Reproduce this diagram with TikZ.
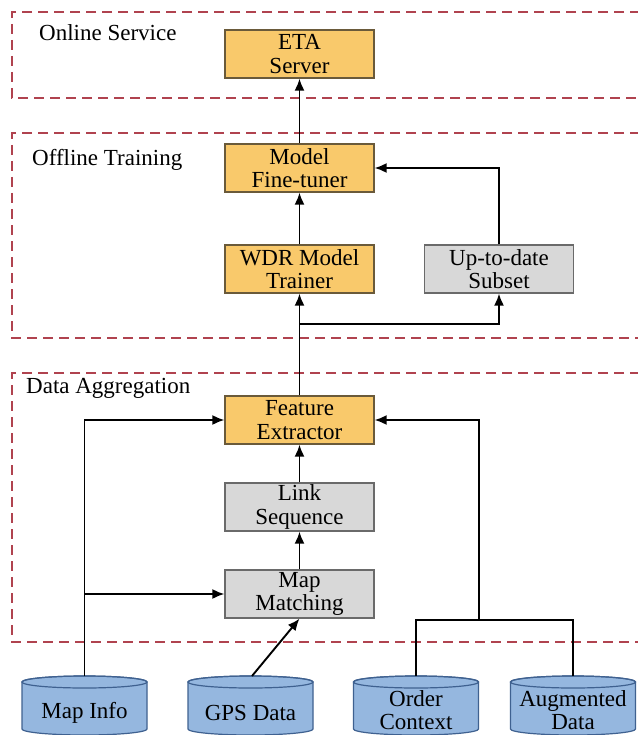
\documentclass[tikz,border=0pt]{standalone}
\usepackage{fontspec}
\setmainfont{Liberation Serif}
\usetikzlibrary{arrows.meta}
\definecolor{dashred}{HTML}{B0434F}
\definecolor{orfill}{HTML}{F9C96B}
\definecolor{ordraw}{HTML}{6A5A3A}
\definecolor{grfill}{HTML}{D8D8D8}
\definecolor{grdraw}{HTML}{6A6A6A}
\definecolor{cylfill}{HTML}{95B7DF}
\definecolor{cyldraw}{HTML}{3F6190}
\tikzset{
  box/.style={rectangle, minimum width=149pt, minimum height=48pt, inner sep=0pt, line width=1.2pt, align=center, font=\fontsize{23}{23.5}\selectfont},
  obox/.style={box, fill=orfill, draw=ordraw},
  gbox/.style={box, fill=grfill, draw=grdraw},
  region/.style={draw=dashred, line width=1.6pt, dash pattern=on 10pt off 6pt},
  rlabel/.style={anchor=west, inner sep=0pt, font=\fontsize{23}{23.5}\selectfont},
  cyl/.style={fill=cylfill, draw=cyldraw, line width=1.2pt},
  cyltext/.style={align=center, inner sep=0pt, font=\fontsize{23}{23.5}\selectfont},
  conn/.style={line width=1.9pt, black},
  arr/.style={conn, -{Latex[length=12pt,width=10pt]}}
}
\newcommand{\mycyl}[1]{%
  \path[cyl] (#1-62.5,682) -- (#1-62.5,729) arc[start angle=180,end angle=360,x radius=62.5pt,y radius=6pt] -- (#1+62.5,682) arc[start angle=0,end angle=180,x radius=62.5pt,y radius=6pt] -- cycle;
  \draw[cyldraw, line width=1.2pt] (#1,682) ellipse[x radius=62.5pt, y radius=6pt];
}
\begin{document}
\begin{tikzpicture}[x=1pt,y=-1pt]
\useasboundingbox[fill=white] (0,0) rectangle (637,735);
% regions
\draw[region] (640,12) -- (12,12) -- (12,98) -- (640,98);
\draw[region] (640,133) -- (12,133) -- (12,338) -- (640,338);
\draw[region] (640,373) -- (12,373) -- (12,642) -- (640,642);
\node[rlabel] (lon) at (39,33) {Online Service};
\node[rlabel] (loff) at (32,160) {Offline Training};
\node[rlabel] (ldat) at (26,388) {Data Aggregation};
% boxes
\node[obox] (eta) at (299.5,54) {ETA\\Server};
\node[obox] (fine) at (299.5,168) {Model\\Fine-tuner};
\node[obox] (wdr) at (299.5,269) {WDR Model\\Trainer};
\node[gbox] (sub) at (499,269) {Up-to-date\\Subset};
\node[obox] (feat) at (299.5,420) {Feature\\Extractor};
\node[gbox] (link) at (299.5,507) {Link\\Sequence};
\node[gbox] (mm) at (299.5,594) {Map\\Matching};
% cylinders
\mycyl{84.5}
\mycyl{250.5}
\mycyl{416}
\mycyl{573}
\node[cyltext] (mapinfo) at (84.5,713) {Map Info};
\node[cyltext] (gps) at (250.5,713) {GPS Data};
\node[cyltext] (order) at (416,710) {Order\\Context};
\node[cyltext] (aug) at (573,710) {Augmented\\Data};
\coordinate (mtop) at (84.5,676);
\coordinate (gtop) at (252,676);
\coordinate (otop) at (416,676);
\coordinate (atop) at (573,676);
\coordinate (br) at (299.5,324);
\coordinate (mbr) at (84.5,594);
\coordinate (oa) at (479,620);
% connectors
\draw[arr] (fine.north) -- (eta.south);
\draw[arr] (wdr.north) -- (fine.south);
\draw[arr] (sub.north) |- (fine.east);
\draw[arr] (feat.north) -- (wdr.south);
\draw[arr] (br) -| (sub.south);
\draw[arr] (link.north) -- (feat.south);
\draw[arr] (mm.north) -- (link.south);
\draw[arr] (mtop) |- (feat.west);
\draw[arr] (mbr) -- (mm.west);
\draw[arr] (gtop) -- (mm.south);
\draw[conn] (otop) |- (oa) -| (atop);
\draw[arr] (oa) |- (feat.east);
\end{tikzpicture}
\end{document}
